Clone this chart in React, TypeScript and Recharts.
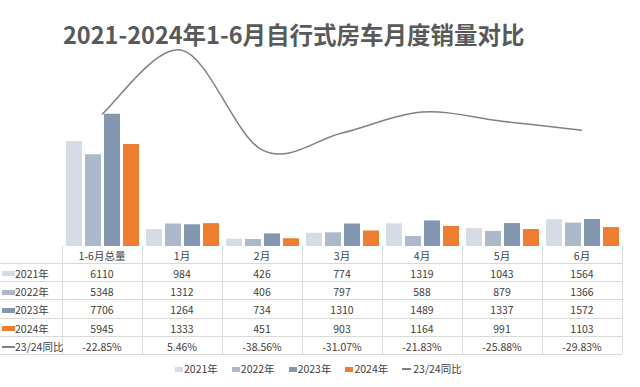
import React from "react";
import { ComposedChart, Bar, Line, XAxis, YAxis } from "recharts";

const categories = ["1-6月总量", "1月", "2月", "3月", "4月", "5月", "6月"];
const sales2021 = [6110, 984, 426, 774, 1319, 1043, 1564];
const sales2022 = [5348, 1312, 406, 797, 588, 879, 1366];
const sales2023 = [7706, 1264, 734, 1310, 1489, 1337, 1572];
const sales2024 = [5945, 1333, 451, 903, 1164, 991, 1103];
const yoy = [-22.85, 5.46, -38.56, -31.07, -21.83, -25.88, -29.83];

const yearSeries = [
  { key: "y2021", name: "2021年", values: sales2021, color: "#D6DCE5" },
  { key: "y2022", name: "2022年", values: sales2022, color: "#ADB9CA" },
  { key: "y2023", name: "2023年", values: sales2023, color: "#8497B0" },
  { key: "y2024", name: "2024年", values: sales2024, color: "#ED7D31" },
];
const yoyName = "23/24同比";
const yoyColor = "#808080";

const data = categories.map((c, i) => {
  const row: any = { name: c, yoy: yoy[i] };
  yearSeries.forEach((s) => (row[s.key] = s.values[i]));
  return row;
});

// excel-like smooth line (catmull-rom, bezier control at 1/6)
const smoothCurve = (context: any) => {
  let pts: number[][] = [];
  return {
    areaStart() {},
    areaEnd() {},
    lineStart() { pts = []; },
    point(x: number, y: number) { pts.push([+x, +y]); },
    lineEnd() {
      if (!pts.length) return;
      context.moveTo(pts[0][0], pts[0][1]);
      for (let i = 0; i < pts.length - 1; i++) {
        const p0 = pts[Math.max(i - 1, 0)];
        const p1 = pts[i];
        const p2 = pts[i + 1];
        const p3 = pts[Math.min(i + 2, pts.length - 1)];
        context.bezierCurveTo(
          p1[0] + (p2[0] - p0[0]) / 6, p1[1] + (p2[1] - p0[1]) / 6,
          p2[0] - (p3[0] - p1[0]) / 6, p2[1] - (p3[1] - p1[1]) / 6,
          p2[0], p2[1]
        );
      }
    },
  };
};

const W = 640, H = 387;
const PLOT_L = 62, PLOT_R = 622, PLOT_T = 40, PLOT_B = 246;
const COL_W = (PLOT_R - PLOT_L) / categories.length;
const HEAD_H = 16.7, ROW_H = 18.33;
const FONT = '"Noto Sans CJK SC", "Microsoft YaHei", sans-serif';
const GRID = "#d9d9d9";
const TXT = "#404040";

const fmtPct = (v: number) => v.toFixed(2) + "%";

function Swatch({ color, line, w = 13 }: { color: string; line?: boolean; w?: number }) {
  return (
    <span style={{ display: "inline-block", width: w, height: line ? 1.5 : 5, background: color, verticalAlign: "middle", marginBottom: 2 }} />
  );
}

function DataTable() {
  const rows = [
    ...yearSeries.map((s) => ({ label: s.name, color: s.color, line: false, cells: s.values.map(String) })),
    { label: yoyName, color: yoyColor, line: true, cells: yoy.map(fmtPct) },
  ];
  const lines: React.ReactNode[] = [];
  for (let r = 0; r <= rows.length; r++) {
    const y = PLOT_B + HEAD_H + r * ROW_H;
    lines.push(<div key={"h" + r} style={{ position: "absolute", left: 0, top: y, width: PLOT_R, height: 1, background: GRID }} />);
  }
  const bottom = PLOT_B + HEAD_H + rows.length * ROW_H;
  for (let c = 0; c <= categories.length; c++) {
    lines.push(<div key={"v" + c} style={{ position: "absolute", left: PLOT_L + c * COL_W, top: PLOT_B, width: 1, height: bottom - PLOT_B, background: GRID }} />);
  }
  return (
    <>
      {lines}
      {categories.map((c, i) => (
        <div key={c} style={{ position: "absolute", left: PLOT_L + i * COL_W, top: PLOT_B + 2, width: COL_W, height: HEAD_H, lineHeight: HEAD_H + "px", textAlign: "center" }}>{c}</div>
      ))}
      {rows.map((row, r) => {
        const top = PLOT_B + HEAD_H + r * ROW_H + 2;
        return (
          <React.Fragment key={row.label}>
            <div style={{ position: "absolute", left: 2, top, height: ROW_H, lineHeight: ROW_H + "px", whiteSpace: "nowrap" }}>
              <Swatch color={row.color} line={row.line} />
              {row.label}
            </div>
            {row.cells.map((v, i) => (
              <div key={i} style={{ position: "absolute", left: PLOT_L + i * COL_W, top, width: COL_W, height: ROW_H, lineHeight: ROW_H + "px", textAlign: "center" }}>{v}</div>
            ))}
          </React.Fragment>
        );
      })}
    </>
  );
}

function BottomLegend() {
  return (
    <div style={{ position: "absolute", left: 175, top: 361, display: "flex", alignItems: "center", whiteSpace: "nowrap" }}>
      {yearSeries.map((s) => (
        <span key={s.key} style={{ marginRight: 14 }}>
          <Swatch color={s.color} w={8} />
          <span style={{ marginLeft: 1 }}>{s.name}</span>
        </span>
      ))}
      <span>
        <Swatch color={yoyColor} line w={9} />
        <span style={{ marginLeft: 2 }}>{yoyName}</span>
      </span>
    </div>
  );
}

export default function App() {
  return (
    <div style={{ position: "absolute", left: 0, top: 0, width: W, height: H, background: "#fff", fontFamily: FONT, fontSize: 10.5, color: TXT, overflow: "hidden" }}>
      <div style={{ position: "absolute", left: 63, top: 22, fontSize: 23.5, lineHeight: "24px", fontWeight: 700, color: "#595959", whiteSpace: "nowrap" }}>
        2021-2024年1-6月自行式房车月度销量对比
      </div>
      <ComposedChart
        width={W}
        height={H}
        data={data}
        margin={{ top: PLOT_T, right: W - PLOT_R, bottom: H - PLOT_B, left: PLOT_L }}
        barCategoryGap="5%"
        barGap={3}
        style={{ position: "absolute", left: 0, top: 0 }}
      >
        <XAxis dataKey="name" height={0} tick={false} tickLine={false} axisLine={{ stroke: GRID }} />
        <YAxis yAxisId="left" hide domain={[0, 12000]} />
        <YAxis yAxisId="right" hide orientation="right" domain={[-81, 10]} />
        {yearSeries.map((s) => (
          <Bar key={s.key} yAxisId="left" dataKey={s.key} name={s.name} fill={s.color} isAnimationActive={false} />
        ))}
        <Line yAxisId="right" dataKey="yoy" name={yoyName} type={smoothCurve as any} stroke={yoyColor} strokeWidth={1.5} dot={false} activeDot={false} isAnimationActive={false} />
      </ComposedChart>
      <DataTable />
      <BottomLegend />
    </div>
  );
}
